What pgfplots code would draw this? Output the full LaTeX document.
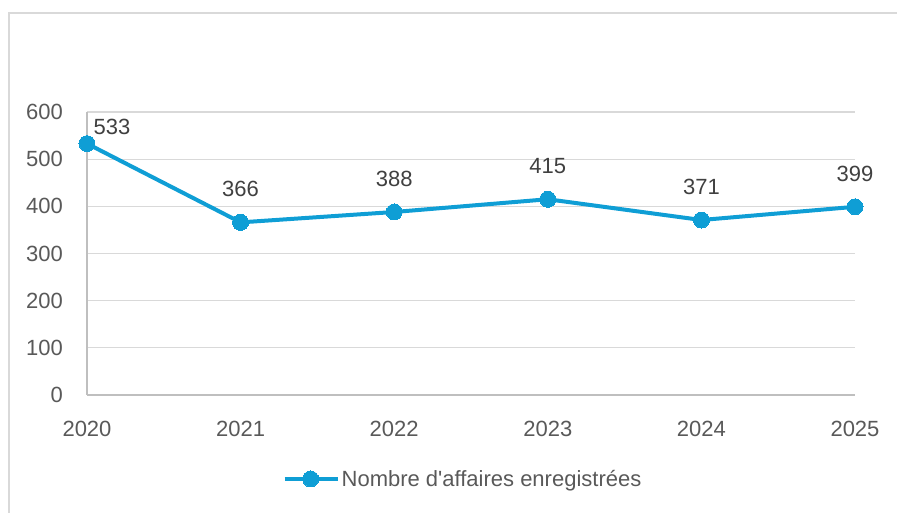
\documentclass[border=0pt]{standalone}
\usepackage{fontspec}
\setmainfont{Liberation Sans}
\usepackage{pgfplots}
\pgfplotsset{compat=1.18}
\definecolor{serie}{HTML}{0F9ED5}
\definecolor{gridc}{HTML}{D9D9D9}
\definecolor{axisc}{HTML}{BFBFBF}
\definecolor{tickc}{HTML}{595959}
\definecolor{labc}{HTML}{404040}
\begin{document}
\begin{tikzpicture}
\begin{axis}[
  name=ax,
  scale only axis,
  width=768pt, height=283pt,
  xmin=0, xmax=5, ymin=0, ymax=600,
  xtick={0,1,2,3,4,5},
  xticklabels={2020,2021,2022,2023,2024,2025},
  ytick={0,100,200,300,400,500,600},
  axis lines*=left,
  axis line style={axisc, line width=1.2pt},
  ymajorgrids,
  grid style={gridc, line width=1.2pt},
  major tick length=0pt,
  /pgf/number format/assume math mode=true,
  /pgf/number format/1000 sep={},
  ticklabel style={font=\fontsize{22}{26}\selectfont, text=tickc},
  yticklabel style={anchor=east, inner sep=0pt, xshift=-24pt},
  xticklabel style={anchor=north, inner sep=0pt, yshift=-26pt},
  clip=false,
  legend style={draw=none, fill=none, at={(0.4896,-0.2968)}, anchor=center,
    font=\fontsize{22}{26}\selectfont, text=tickc},
  legend image code/.code={
    \draw[mark repeat=2, mark phase=2] plot coordinates {(0pt,0pt) (26pt,0pt) (53pt,0pt)};
  },
  legend cell align=left,
]
\addplot[serie, line width=4pt, mark=*, mark size=8pt, mark options={fill=serie, draw=serie, line width=0pt}]
  coordinates {(0,533) (1,366) (2,388) (3,415) (4,371) (5,399)};
\addlegendentry{Nombre d\textquotesingle affaires enregistrées}
\addplot[draw=none, mark=none, forget plot, nodes near coords,
  every node near coord/.append style={anchor=center, yshift=33pt, inner sep=0pt,
    font=\fontsize{22}{26}\selectfont, text=labc}]
  coordinates {(1,366) (2,388) (3,415) (4,371) (5,399)};
\addplot[draw=none, mark=none, forget plot, nodes near coords,
  every node near coord/.append style={anchor=center, xshift=25pt, yshift=17pt, inner sep=0pt,
    font=\fontsize{22}{26}\selectfont, text=labc}]
  coordinates {(0,533)};
\end{axis}
\path[use as bounding box] ([xshift=-87pt,yshift=-118pt]ax.south west) rectangle ([xshift=42pt,yshift=112pt]ax.north east);
\draw[gridc, line width=1.5pt] ([xshift=-78pt,yshift=-118pt]ax.south west) -- ([xshift=-78pt,yshift=99pt]ax.north west) -- ([xshift=42pt,yshift=99pt]ax.north east);
\end{tikzpicture}
\end{document}
